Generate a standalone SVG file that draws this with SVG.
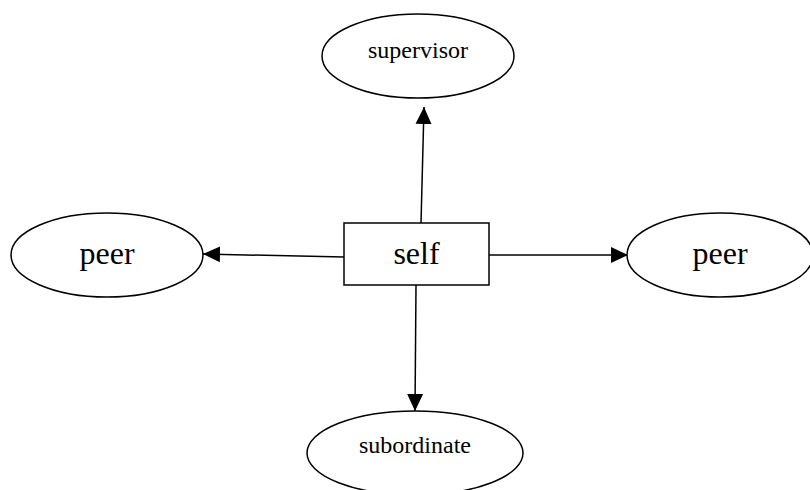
<svg xmlns="http://www.w3.org/2000/svg" width="810" height="490" viewBox="0 0 810 490">
<defs>
<style>
.n{fill:#fff;stroke:#000;stroke-width:1.5}
.t{font-family:"Liberation Serif","Times New Roman",serif;fill:#000;text-anchor:middle}
.e{stroke:#000;stroke-width:1.5;fill:none}
</style>
<marker id="ah" markerWidth="18" markerHeight="18" viewBox="0 0 18 18" refX="17" refY="9" orient="auto" markerUnits="userSpaceOnUse">
<path d="M0,1 L17,9 L0,17 Z" fill="#000"/>
</marker>
</defs>
<rect width="810" height="490" fill="#fff"/>
<g id="connectors">
<line class="e" x1="421" y1="223" x2="424" y2="107" marker-end="url(#ah)"/>
<line class="e" x1="344" y1="257" x2="203" y2="254" marker-end="url(#ah)"/>
<line class="e" x1="489" y1="255" x2="628" y2="255" marker-end="url(#ah)"/>
<line class="e" x1="416" y1="285" x2="415" y2="411" marker-end="url(#ah)"/>
</g>
<g id="supervisor">
<ellipse class="n" cx="418" cy="56" rx="96" ry="42"/>
<text class="t" x="418" y="58" font-size="24">supervisor</text>
</g>
<g id="peer_left">
<ellipse class="n" cx="107" cy="255" rx="96" ry="42"/>
<text class="t" x="107" y="264" font-size="32">peer</text>
</g>
<g id="self">
<rect class="n" x="344" y="223" width="145" height="62"/>
<text class="t" x="416.5" y="264" font-size="32">self</text>
</g>
<g id="peer_right">
<ellipse class="n" cx="720" cy="255" rx="93" ry="42"/>
<text class="t" x="720" y="264" font-size="32">peer</text>
</g>
<g id="subordinate">
<ellipse class="n" cx="415" cy="453" rx="108" ry="42"/>
<text class="t" x="415" y="453" font-size="24">subordinate</text>
</g>
</svg>
